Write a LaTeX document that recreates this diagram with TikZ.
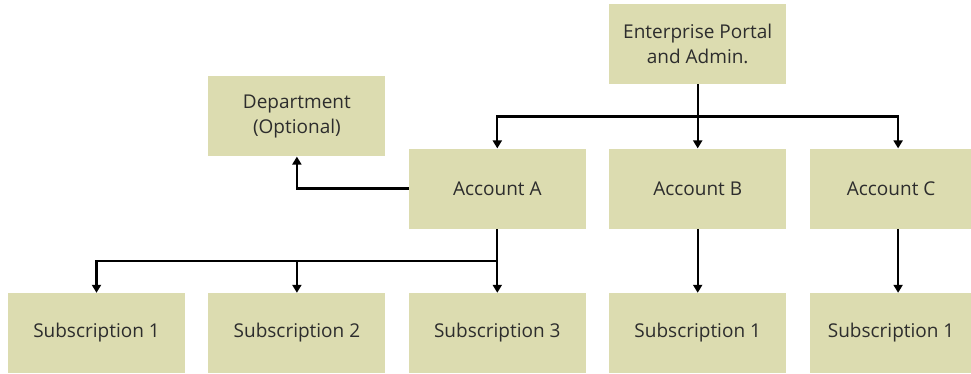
\documentclass[tikz,border=0pt]{standalone}
\usepackage{fontspec}
\setmainfont{Open Sans}
\usetikzlibrary{arrows.meta,positioning,calc}
\definecolor{boxfill}{RGB}{220,220,176}
\definecolor{boxtext}{RGB}{45,45,45}
\tikzset{x=1pt, y=1pt,
        node distance=23pt, % gap between two boxes of one row
        box/.style={ % every box of the chart
            fill=boxfill,
            text=boxtext,
            minimum width=177pt,
            minimum height=80pt,
            align=center,
            inner sep=0pt,
            font=\fontsize{19}{25}\selectfont},
        narrow/.style={minimum width=163pt}, % last column is cut at the page edge
        link/.style={ % every connector
            draw,
            line width=2.3pt,
            -{Triangle[width=9pt,length=8pt]}}
        }
\begin{document}
\begin{tikzpicture}
    \useasboundingbox (0,0) rectangle (971,-373);

    \node[box] (sub1) at (96.5,-333) {Subscription 1};
    \node[box] (sub2) [right=of sub1] {Subscription 2};
    \node[box] (sub3) [right=of sub2] {Subscription 3};
    \node[box] (subB) [right=of sub3] {Subscription 1};
    \node[box, narrow] (subC) [right=of subB] {Subscription 1};

    \node[box] (accA) [above=64pt of sub3] {Account A};
    \node[box] (accB) [above=64pt of subB] {Account B};
    \node[box, narrow] (accC) [above=64pt of subC] {Account C};

    \node[box] (ent) [above=64pt of accB] {Enterprise Portal\\and Admin.};
    \node[box] (dept) at ($(sub2 |- ent.south)!0.5!(sub2 |- accA.north)$) {Department\\(Optional)};

    \coordinate (top) at ($(ent.south)!0.5!(accB.north)$);
    \coordinate (low) at ($(accA.south)!0.5!(sub3.north)$);

    \draw[link] (ent) -- (accB);
    \draw[link] (top) -| (accA.north);
    \draw[link] (top) -| ([xshift=7pt]accC.north);

    \draw[link] (accA.west) -| (dept.south);

    \draw[link] (accA) -- (sub3);
    \draw[link] (low) -| (sub1.north);
    \draw[link] (low) -| (sub2.north);

    \draw[link] (accB) -- (subB);
    \draw[link] ([xshift=7pt]accC.south) -- ([xshift=7pt]subC.north);
\end{tikzpicture}
\end{document}
